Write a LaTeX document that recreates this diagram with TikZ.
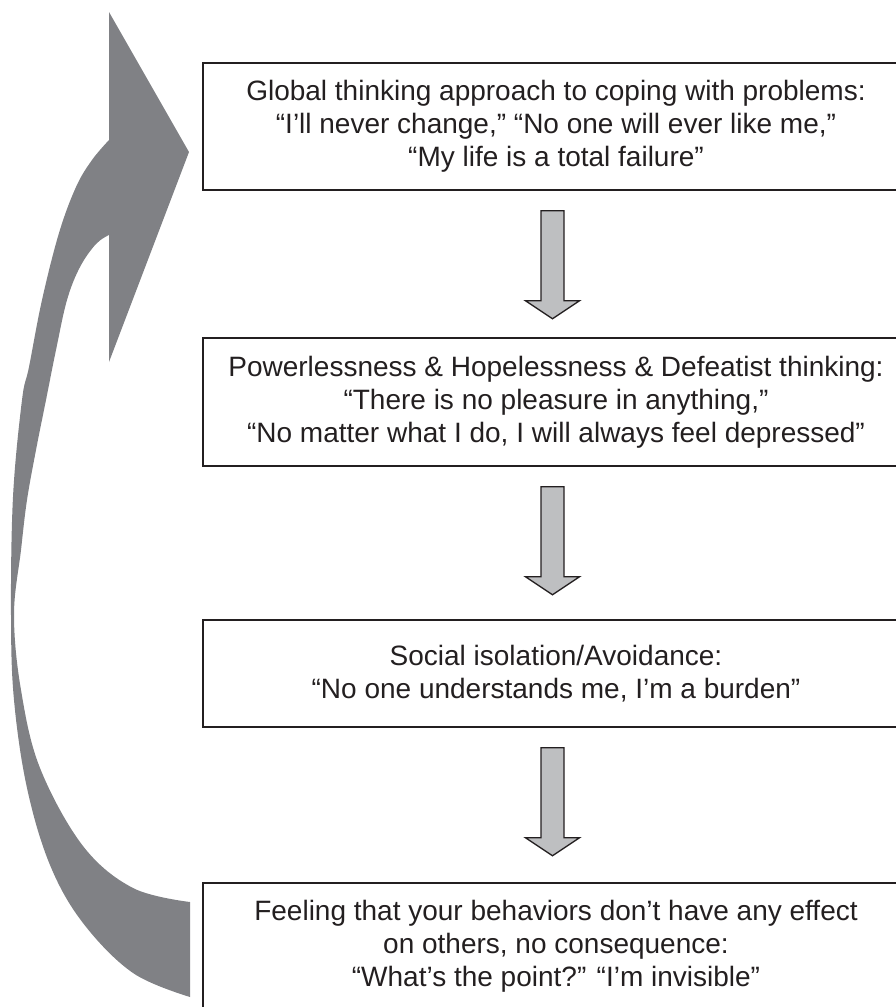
\documentclass[tikz,border=0pt]{standalone}
\usepackage{fontspec}
\setmainfont{Liberation Sans}
\usetikzlibrary{calc}
\definecolor{ink}{RGB}{35,31,32}
\definecolor{bigfill}{RGB}{128,129,133}
\definecolor{arrfill}{RGB}{190,191,193}
\begin{document}
\begin{tikzpicture}[x=1pt,y=-1pt,
  box/.style={draw=ink, line width=1.5pt, text=ink, align=center, inner sep=0pt,
    minimum width=706pt, font=\fontsize{28}{33}\selectfont},
  blk/.style={draw=ink, fill=arrfill, line width=1.3pt, line join=miter},
  loopfill/.style={fill=bigfill}]
\useasboundingbox (0,0) rectangle (895,1007);
% boxes
\node[box, minimum height=127pt] (b1) at (556,126.5)
  {Global thinking approach to coping with problems:\\
   “I’ll never change,” “No one will ever like me,”\\
   “My life is a total failure”};
\node[box, minimum height=128pt] (b2) at (556,402)
  {Powerlessness \& Hopelessness \& Defeatist thinking:\\
   “There is no pleasure in anything,”\\
   “No matter what I do, I will always feel depressed”};
\node[box, minimum height=107pt] (b3) at (556,673.5)
  {Social isolation/Avoidance:\\
   “No one understands me, I’m a burden”};
\node[box, minimum height=127pt] (b4) at (556,946.5)
  {Feeling that your behaviors don’t have any effect\\
   on others, no consequence:\\
   “What’s the point?” “I’m invisible”};
% block arrows between boxes
\foreach \a in {b1,b2,b3}{
  \draw[blk] ($(\a.south)+(-15,20)$) -- ++(23,0) -- ++(0,90) -- ++(15.5,0)
     -- ++(-27,18) -- ++(-27,-18) -- ++(15.5,0) -- cycle;
}
% big curved return arrow
\fill[loopfill] (109,12) -- (189,152) -- (109,362) -- (109,235)
  -- plot[smooth, tension=0.6] coordinates {(109,235) (96,244) (80,267) (67,300)
     (56,350) (46,400) (36,450) (27,500) (21,550) (14,615) (21,690) (40,768)
     (83,846) (133,888) (190,902)}
  -- (190,997)
  -- plot[smooth, tension=0.6] coordinates {(190,997) (133,973) (83,923) (50,865)
     (27,788) (14,700) (11,615) (13,497) (22,400) (29,367) (42,300) (59,233)
     (76,187) (92,160) (109,140)}
  -- cycle;
\end{tikzpicture}
\end{document}
